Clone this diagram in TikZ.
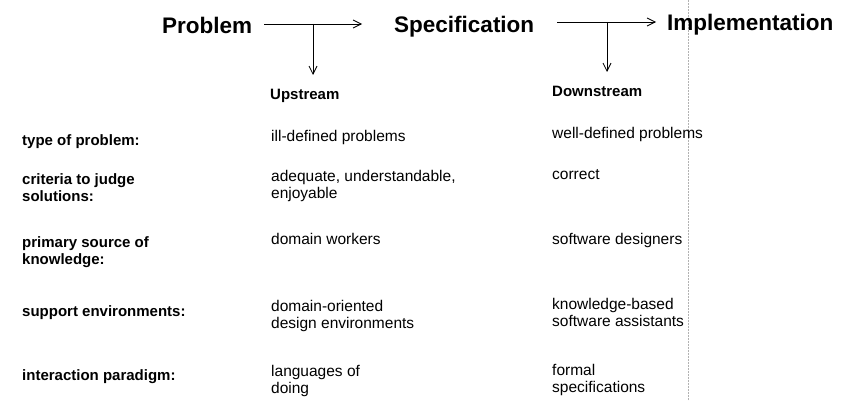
\documentclass[tikz,border=0pt]{standalone}
\usepackage{fontspec}
\setmainfont{Liberation Sans}
\usetikzlibrary{arrows.meta}
\begin{document}
\begin{tikzpicture}[x=1pt,y=-1pt,
  title/.style={font=\fontsize{22.5}{26}\selectfont\bfseries,anchor=base west,inner sep=0},
  head/.style={font=\fontsize{15}{17}\selectfont\bfseries,anchor=base west,inner sep=0},
  lab/.style={font=\fontsize{15}{17}\selectfont\bfseries,anchor=base west,inner sep=0},
  val/.style={font=\fontsize{15.5}{17}\selectfont,anchor=base west,inner sep=0},
  arr/.style={-{Straight Barb[length=8pt,width=8pt]},line width=0.8pt},
  fold/.style={gray!60,densely dotted,line width=0.5pt}]
\useasboundingbox (0,0) rectangle (862,401);
% faint fold line of the scan
\coordinate (ft) at (688,0);
\coordinate (fb) at (688,401);
\draw[fold] (ft) -- (fb);
% titles
\node[title] (prob) at (162,34) {Problem};
\node[title] (spec) at (394,33) {Specification};
\node[title] (impl) at (667,31) {Implementation};
% arrows
\coordinate (a1s) at (264,24);
\coordinate (a1e) at (362,24);
\coordinate (a1m) at (313,24);
\coordinate (a1d) at (313,75);
\draw[line width=0.8pt] (a1s) -- (a1m);
\draw[arr] (a1m) -- (a1e);
\draw[arr] (a1m) -- (a1d);
\coordinate (a2s) at (557,22);
\coordinate (a2e) at (656,22);
\coordinate (a2m) at (607,22);
\coordinate (a2d) at (607,72);
\draw[line width=0.8pt] (a2s) -- (a2m);
\draw[arr] (a2m) -- (a2e);
\draw[arr] (a2m) -- (a2d);
% column heads
\node[head] (up) at (270,100) {Upstream};
\node[head] (down) at (552,97) {Downstream};
% left labels
\node[lab] (l1) at (22,146) {type of problem:};
\node[lab] (l2a) at (22,184) {criteria to judge};
\node[lab] (l2b) at (22,201) {solutions:};
\node[lab] (l3a) at (22,247) {primary source of};
\node[lab] (l3b) at (22,264) {knowledge:};
\node[lab] (l4) at (22,316) {support environments:};
\node[lab] (l5) at (22,380) {interaction paradigm:};
% upstream values
\node[val] (u1) at (271,142) {ill-defined problems};
\node[val] (u2a) at (271,181) {adequate, understandable,};
\node[val] (u2b) at (271,198) {enjoyable};
\node[val] (u3) at (271,244) {domain workers};
\node[val] (u4a) at (271,311) {domain-oriented};
\node[val] (u4b) at (271,328) {design environments};
\node[val] (u5a) at (271,376) {languages of};
\node[val] (u5b) at (271,393) {doing};
% downstream values
\node[val] (d1) at (552,139) {well-defined problems};
\node[val] (d2) at (552,179) {correct};
\node[val] (d3) at (552,244) {software designers};
\node[val] (d4a) at (552,309) {knowledge-based};
\node[val] (d4b) at (552,326) {software assistants};
\node[val] (d5a) at (552,375) {formal};
\node[val] (d5b) at (552,392) {specifications};
\end{tikzpicture}
\end{document}
